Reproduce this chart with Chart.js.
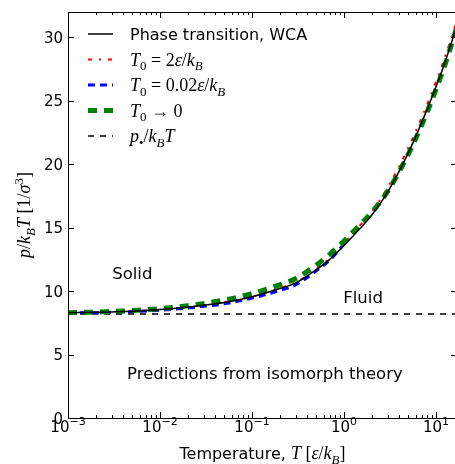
<!DOCTYPE html>
<html>
<head>
<meta charset="utf-8">
<script src="https://cdn.jsdelivr.net/npm/chart.js@4.4.0/dist/chart.umd.min.js"></script>
<style>
html, body { margin: 0; padding: 0; overflow: hidden; background: #fff; }
</style>
</head>
<body>
<canvas id="chart" width="460" height="464"></canvas>
<script>
// temperatures (eps/kB) for each curve
const tempFull = [0.001, 0.002, 0.005, 0.01, 0.02, 0.05, 0.1, 0.2, 0.3, 0.5, 0.7, 1, 1.5, 2, 3, 5, 7, 10, 13, 16.5]
const tempLow = [0.001, 0.002, 0.005, 0.01, 0.02, 0.05, 0.1, 0.2, 0.3, 0.5, 0.7, 1]
const tempHigh = [0.05, 0.1, 0.2, 0.3, 0.5, 0.7, 1, 1.5, 2, 3, 5, 7, 10, 13, 16.5]

// p / kB T values
const phaseWCA = [8.30, 8.33, 8.42, 8.55, 8.75, 9.1, 9.55, 10.2, 10.65, 11.7, 12.5, 13.6, 14.95, 16.0, 17.85, 20.9, 23.3, 26.1, 28.4, 30.7]
const isoT0_2 = [9.12, 9.57, 10.22, 10.7, 11.75, 12.6, 13.75, 15.2, 16.25, 18.2, 21.3, 23.7, 26.5, 28.8, 31.1]
const isoT0_002 = [8.28, 8.30, 8.38, 8.49, 8.67, 9.0, 9.45, 10.05, 10.5, 11.6, 12.45, 13.7]
const isoT0_zero = [8.30, 8.35, 8.47, 8.62, 8.85, 9.3, 9.8, 10.5, 11.0, 12.05, 12.9, 13.95, 15.25, 16.2, 17.9, 20.8, 23.1, 25.9, 28.2, 30.6]
const pBullet = 8.2

const xTicks = [0.001, 0.01, 0.1, 1, 10]
const xTickExp = ['\u22123', '\u22122', '\u22121', '0', '1']
const yTicks = [0, 5, 10, 15, 20, 25, 30]

// text labels placed in data coordinates
const notes = [
    { text: 'Solid', T: 0.005, p: 11.45 },
    { text: 'Fluid', T: 1.61, p: 9.49 },
    { text: 'Predictions from isomorph theory', T: 0.138, p: 3.5 }
]

const SANS = '"DejaVu Sans"'
const SERIF = '"Liberation Serif"'
const M = 18

function pts(xs, ys) {
    return ys.map((y, i) => ({ x: xs[i], y: y }))
}

function runFont(style) {
    switch (style) {
        case 'sans': return '16px ' + SANS
        case 'it': return 'italic ' + M + 'px ' + SERIF
        case 'rm': return M + 'px ' + SERIF
        case 'sub': return Math.round(M * 0.72) + 'px ' + SERIF
        case 'subit': return 'italic ' + Math.round(M * 0.72) + 'px ' + SERIF
        case 'sup': return Math.round(M * 0.72) + 'px ' + SERIF
    }
}
function runShift(style) {
    if (style === 'sub' || style === 'subit') return M * 0.25
    if (style === 'sup') return -M * 0.4
    return 0
}

function drawRuns(ctx, runs, x, y, align) {
    let total = 0
    const widths = runs.map(r => {
        ctx.font = runFont(r[1])
        const w = ctx.measureText(r[0]).width
        total += w
        return w
    })
    let cx = x
    if (align === 'center') cx = x - total / 2
    if (align === 'right') cx = x - total
    ctx.textAlign = 'left'
    ctx.textBaseline = 'alphabetic'
    runs.forEach((r, i) => {
        ctx.font = runFont(r[1])
        ctx.fillText(r[0], cx, y + runShift(r[1]))
        cx += widths[i]
    })
}

const legendItems = [
    { ds: 0, runs: [['Phase transition, WCA', 'sans']] },
    { ds: 1, runs: [['T', 'it'], ['0', 'sub'], [' = ', 'rm'], ['2', 'rm'], ['\u03b5', 'it'], ['/', 'rm'], ['k', 'it'], ['B', 'subit']] },
    { ds: 2, runs: [['T', 'it'], ['0', 'sub'], [' = ', 'rm'], ['0.02', 'rm'], ['\u03b5', 'it'], ['/', 'rm'], ['k', 'it'], ['B', 'subit']] },
    { ds: 3, runs: [['T', 'it'], ['0', 'sub'], [' \u2192 ', 'rm'], ['0', 'rm']] },
    { ds: 4, runs: [['p', 'it'], ['\u2022', 'sub'], ['/', 'rm'], ['k', 'it'], ['B', 'subit'], ['T', 'it']] }
]

const decor = {
    id: 'decor',
    afterDraw(chart) {
        const ctx = chart.ctx
        const a = chart.chartArea
        const xs = chart.scales.x
        const ys = chart.scales.y
        ctx.save()
        ctx.strokeStyle = '#000'
        ctx.fillStyle = '#000'
        ctx.lineWidth = 1

        // frame
        ctx.strokeRect(Math.round(a.left) + 0.5, Math.round(a.top) + 0.5, Math.round(a.right - a.left), Math.round(a.bottom - a.top))

        // x ticks (major + minor log), inward on bottom and top
        ctx.beginPath()
        for (let k = -3; k <= 1; k++) {
            for (let m = 1; m <= 9; m++) {
                const v = m * Math.pow(10, k)
                if (v < xs.min || v > xs.max) continue
                const px = Math.round(xs.getPixelForValue(v)) + 0.5
                const len = m === 1 ? 6 : 3
                ctx.moveTo(px, a.bottom)
                ctx.lineTo(px, a.bottom - len)
                ctx.moveTo(px, a.top)
                ctx.lineTo(px, a.top + len)
            }
        }
        yTicks.forEach(v => {
            const py = Math.round(ys.getPixelForValue(v)) + 0.5
            ctx.moveTo(a.left, py)
            ctx.lineTo(a.left + 6, py)
            ctx.moveTo(a.right, py)
            ctx.lineTo(a.right - 6, py)
        })
        ctx.stroke()

        // tick labels
        yTicks.forEach(v => {
            const py = ys.getPixelForValue(v)
            ctx.font = '15px ' + SANS
            ctx.textAlign = 'right'
            ctx.textBaseline = 'alphabetic'
            ctx.fillText(String(v), a.left - 5, py + 5.5)
        })
        xTicks.forEach((v, i) => {
            const px = xs.getPixelForValue(v)
            ctx.font = '15px ' + SANS
            const w1 = ctx.measureText('10').width
            ctx.font = '11px ' + SANS
            const w2 = ctx.measureText(xTickExp[i]).width
            const x0 = px - (w1 + w2) / 2
            ctx.textAlign = 'left'
            ctx.font = '15px ' + SANS
            ctx.fillText('10', x0, a.bottom + 14)
            ctx.font = '11px ' + SANS
            ctx.fillText(xTickExp[i], x0 + w1, a.bottom + 7)
        })

        // axis titles
        const xRuns = [['Temperature, ', 'sans'], ['T', 'it'], [' [', 'rm'], ['\u03b5', 'it'], ['/', 'rm'], ['k', 'it'], ['B', 'subit'], [']', 'rm']]
        drawRuns(ctx, xRuns, (a.left + a.right) / 2, 459, 'center')
        ctx.save()
        ctx.translate(30, (a.top + a.bottom) / 2)
        ctx.rotate(-Math.PI / 2)
        const yRuns = [['p', 'it'], ['/', 'rm'], ['k', 'it'], ['B', 'subit'], ['T', 'it'], [' [1/', 'rm'], ['\u03c3', 'it'], ['3', 'sup'], [']', 'rm']]
        drawRuns(ctx, yRuns, 0, 0, 'center')
        ctx.restore()

        // legend
        legendItems.forEach((item, i) => {
            const ds = chart.data.datasets[item.ds]
            const rowY = a.top + 22 + i * 25.5
            ctx.save()
            ctx.strokeStyle = ds.borderColor
            ctx.lineWidth = ds.borderWidth
            ctx.setLineDash(ds.borderDash || [])
            ctx.beginPath()
            ctx.moveTo(a.left + 20, rowY)
            ctx.lineTo(a.left + 45, rowY)
            ctx.stroke()
            ctx.restore()
            ctx.fillStyle = '#000'
            drawRuns(ctx, item.runs, a.left + 62, rowY + 6, 'left')
        })

        // annotations
        ctx.font = '16.5px ' + SANS
        ctx.textAlign = 'center'
        ctx.textBaseline = 'alphabetic'
        notes.forEach(n => {
            ctx.fillText(n.text, xs.getPixelForValue(n.T), ys.getPixelForValue(n.p) + 5.8)
        })
        ctx.restore()
    }
}

const lineBase = { pointRadius: 0, fill: false, cubicInterpolationMode: 'monotone' }

new Chart(document.getElementById('chart'), {
    type: 'line',
    data: {
        datasets: [
            Object.assign({ label: 'Phase transition, WCA', data: pts(tempFull, phaseWCA), borderColor: '#000000', borderWidth: 1.5, order: 0 }, lineBase),
            Object.assign({ label: 'T0 = 2 eps/kB', data: pts(tempHigh, isoT0_2), borderColor: '#ff0000', borderWidth: 2, borderDash: [4, 7, 2, 7], order: 4 }, lineBase),
            Object.assign({ label: 'T0 = 0.02 eps/kB', data: pts(tempLow, isoT0_002), borderColor: '#0000ff', borderWidth: 3, borderDash: [7, 5], order: 3 }, lineBase),
            Object.assign({ label: 'T0 -> 0', data: pts(tempFull, isoT0_zero), borderColor: '#008000', borderWidth: 5, borderDash: [9, 7], order: 1 }, lineBase),
            Object.assign({ label: 'p/kBT', data: [{ x: tempFull[0], y: pBullet }, { x: 16.9, y: pBullet }], borderColor: '#000000', borderWidth: 1.5, borderDash: [6, 6], order: 5 }, lineBase)
        ]
    },
    options: {
        responsive: false,
        devicePixelRatio: 1,
        animation: false,
        layout: { padding: { left: 0, top: 12, right: 3, bottom: 0 } },
        plugins: { legend: { display: false }, tooltip: { enabled: false } },
        scales: {
            x: {
                type: 'logarithmic', min: 0.001, max: 16.9,
                ticks: { display: false }, grid: { display: false }, border: { display: false },
                afterFit(s) { s.height = 46 }
            },
            y: {
                type: 'linear', min: 0, max: 32,
                ticks: { display: false }, grid: { display: false }, border: { display: false },
                afterFit(s) { s.width = 68 }
            }
        }
    },
    plugins: [decor]
})
</script>
</body>
</html>
